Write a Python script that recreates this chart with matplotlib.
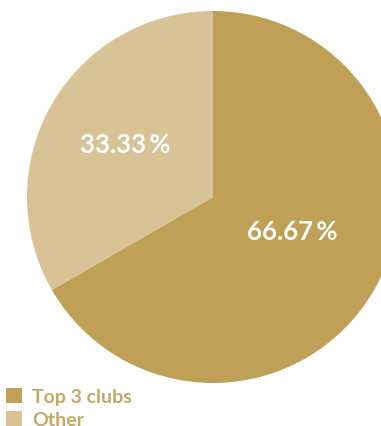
import matplotlib
matplotlib.use("Agg")
import matplotlib.pyplot as plt

categories = ["Top 3 clubs", "Other"]
values = [66.67, 33.33]
colors = ["#BFA056", "#D7C396"]

W, H = 381, 427
fig = plt.figure(figsize=(W / 100, H / 100), dpi=100)
cx, cy, r = 213, 198, 186
ax = fig.add_axes([(cx - r) / W, (H - cy - r) / H, 2 * r / W, 2 * r / H])
wedges, texts, autotexts = ax.pie(
    values, colors=colors, startangle=90, counterclock=False,
    autopct=lambda p: f"{p:.2f}\u2009%", pctdistance=0.5,
    wedgeprops=dict(linewidth=0),
    textprops=dict(color="white", fontsize=18.5, fontweight="bold",
                   family=["Lato", "DejaVu Sans"]),
)
label_pos = [(0.425, -0.185), (-0.47, 0.285)]
for t, p in zip(autotexts, label_pos):
    t.set_position(p)
ax.set_xlim(-1, 1)
ax.set_ylim(-1, 1)
ax.set_aspect("auto")
ax.axis("off")

leg = fig.legend(wedges, categories, loc="upper left",
                 bbox_to_anchor=(4 / W, 1 - 387 / H), frameon=False,
                 handlelength=0.8, handleheight=0.8, handletextpad=0.55,
                 labelspacing=0.3, borderaxespad=0, borderpad=0.1,
                 prop=dict(family=["Lato", "DejaVu Sans"], weight="bold", size=14))
for t in leg.get_texts():
    t.set_color("#C4A865")

fig.savefig("out.png", dpi=100)
